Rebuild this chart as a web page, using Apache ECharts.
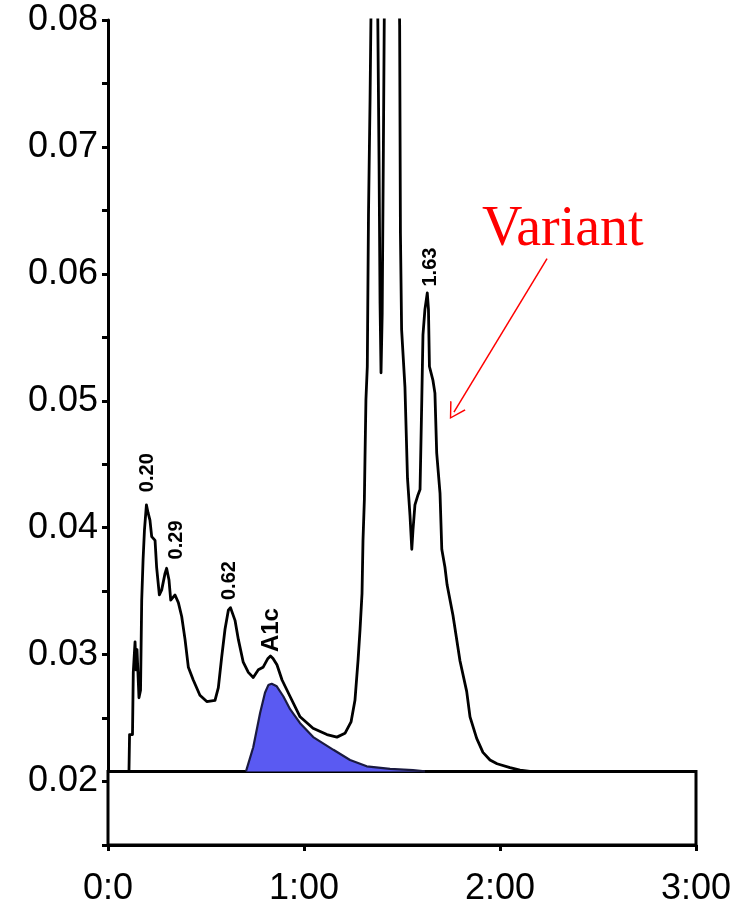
<!DOCTYPE html>
<html>
<head>
<meta charset="utf-8">
<script src="https://cdn.jsdelivr.net/npm/echarts@6/dist/echarts.min.js"></script>
<style>
  html, body { margin: 0; padding: 0; background: #fff; }
  #main { width: 746px; height: 907px; }
</style>
</head>
<body>
<div id="main"></div>
<script>
// retention time in minutes, signal in absorbance units
const traceTime = [0, 0.107, 0.110, 0.125, 0.129, 0.138, 0.143, 0.148, 0.158, 0.166, 0.172, 0.179, 0.186, 0.196,
  0.204, 0.214, 0.223, 0.240, 0.248, 0.262, 0.274, 0.291, 0.299, 0.311, 0.320, 0.342, 0.359, 0.376, 0.393,
  0.410, 0.435, 0.469, 0.504, 0.546, 0.563, 0.580, 0.597, 0.614, 0.625, 0.648, 0.665, 0.690, 0.716, 0.741,
  0.767, 0.791, 0.816, 0.829, 0.842, 0.862, 0.888, 0.929, 0.980, 1.046, 1.117, 1.168, 1.209, 1.240, 1.260,
  1.276, 1.286, 1.296, 1.301, 1.308, 1.311, 1.316, 1.323, 1.329, 1.337, 1.347, 1.372, 1.383, 1.388, 1.393,
  1.399, 1.405, 1.413, 1.480, 1.488, 1.492, 1.498, 1.515, 1.528, 1.541, 1.550, 1.556, 1.566, 1.582, 1.592,
  1.601, 1.607, 1.617, 1.629, 1.635, 1.640, 1.658, 1.668, 1.677, 1.694, 1.703, 1.719, 1.730, 1.760, 1.796,
  1.830, 1.847, 1.881, 1.913, 1.949, 1.985, 2.051, 2.102, 2.153, 3.0]
const traceSignal = [0.0208, 0.0208, 0.0237, 0.0237, 0.0286, 0.0310, 0.0288, 0.0304, 0.0266, 0.0272, 0.0343, 0.0375, 0.0398, 0.0418,
  0.0412, 0.0406, 0.0393, 0.0390, 0.0369, 0.0347, 0.0351, 0.0364, 0.0368, 0.0359, 0.0343, 0.0347, 0.0341, 0.0330, 0.0312,
  0.0290, 0.0280, 0.0268, 0.0263, 0.0264, 0.0274, 0.0298, 0.0320, 0.0335, 0.0337, 0.0327, 0.0312, 0.0294, 0.0286, 0.0282,
  0.0288, 0.0290, 0.0297, 0.0299, 0.0297, 0.0292, 0.0280, 0.0267, 0.0251, 0.0242, 0.0237, 0.0235, 0.0238, 0.0247, 0.0264,
  0.0296, 0.0320, 0.0348, 0.0390, 0.0422, 0.0453, 0.0501, 0.0527, 0.0646, 0.0737, 0.0880, 0.0880, 0.0686, 0.0577, 0.0522,
  0.0569, 0.0698, 0.0880, 0.0880, 0.0796, 0.0632, 0.0556, 0.0511, 0.0439, 0.0409, 0.0383, 0.0398, 0.0418, 0.0426, 0.0430,
  0.0501, 0.0552, 0.0572, 0.0585, 0.0572, 0.0527, 0.0516, 0.0506, 0.0459, 0.0427, 0.0383, 0.0369, 0.0355, 0.0331, 0.0295,
  0.0271, 0.0251, 0.0234, 0.0223, 0.0217, 0.0214, 0.0211, 0.0209, 0.0208, 0.0208]

// fitted A1c peak (shaded)
const a1cTime = [0.704, 0.741, 0.776, 0.801, 0.818, 0.835, 0.861, 0.895, 0.929, 0.980, 1.047, 1.150, 1.235, 1.320, 1.439, 1.556, 1.617]
const a1cSignal = [0.0208, 0.0227, 0.0254, 0.0270, 0.0276, 0.0277, 0.0275, 0.0267, 0.0257, 0.0246, 0.0235, 0.0225, 0.0217, 0.0212, 0.0210, 0.0209, 0.0208]

// peak labels: anchor at text bottom
const peakText = ['0.20', '0.29', '0.62', 'A1c', '1.63']
const peakTime = [0.199, 0.351, 0.622, 0.835, 1.643]
const peakSignal = [0.0428, 0.0375, 0.0343, 0.0302, 0.0590]

const xTickLabels = ['0:0', '1:00', '2:00', '3:00']
const baseline = 0.0208
const yMin = 0.015
const yMax = 0.08

const variantPos = [1.908, 0.0634]
const arrowFrom = [2.240, 0.0612]
const arrowTo = [1.765, 0.0491]

const chart = echarts.init(document.getElementById('main'))

const axisFont = { fontFamily: 'Liberation Sans, Arial, sans-serif', fontSize: 36, color: '#000' }

chart.setOption({
  backgroundColor: '#fff',
  animation: false,
  grid: { left: 108, right: 50, top: 20, bottom: 61 },
  xAxis: {
    type: 'value', min: 0, max: 3, interval: 1,
    axisLine: { lineStyle: { color: '#000', width: 3 } },
    axisTick: { length: 6, lineStyle: { color: '#000', width: 3 } },
    axisLabel: { ...axisFont, margin: 26, formatter: v => xTickLabels[Math.round(v)] },
    splitLine: { show: false },
  },
  yAxis: {
    type: 'value', min: yMin, max: yMax, interval: 0.005,
    axisLine: { show: true, lineStyle: { color: '#000', width: 3 } },
    axisTick: { show: true, length: 6, lineStyle: { color: '#000', width: 3 } },
    axisLabel: {
      ...axisFont, margin: 10,
      formatter: v => Math.abs(v * 100 - Math.round(v * 100)) < 1e-6 ? v.toFixed(2) : '',
    },
    splitLine: { show: false },
  },
  series: [
    {
      name: 'A1c', type: 'line', z: 2,
      data: a1cTime.map((t, i) => [t, a1cSignal[i]]),
      symbol: 'none',
      lineStyle: { color: '#1a1a40', width: 2.2 },
      areaStyle: { color: '#5a5af2', opacity: 1, origin: baseline },
    },
    {
      name: 'trace', type: 'line', z: 3,
      data: traceTime.map((t, i) => [t, traceSignal[i]]),
      symbol: 'none',
      lineStyle: { color: '#000', width: 2.8, join: 'round' },
    },
    {
      // baseline box under the chromatogram
      name: 'box', type: 'line', z: 10, data: [],
      markArea: {
        silent: true,
        itemStyle: { color: '#fff', borderColor: '#000', borderWidth: 3 },
        data: [[{ xAxis: 0, yAxis: yMin }, { xAxis: 3, yAxis: baseline }]],
      },
    },
    {
      name: 'peaks', type: 'scatter', z: 11, symbolSize: 0,
      itemStyle: { opacity: 1 },
      data: peakTime.map((t, i) => ({
        value: [t, peakSignal[i]], name: peakText[i],
        // A1c label is a little bigger than the retention time labels
        label: peakText[i] === 'A1c' ? { fontSize: 24 } : undefined,
      })),
      label: {
        show: true, position: 'inside', rotate: 90,
        align: 'left', verticalAlign: 'middle',
        formatter: p => p.name,
        fontFamily: 'Liberation Sans, Arial, sans-serif', fontWeight: 'bold', color: '#000',
        fontSize: 20,
      },
    },
    {
      name: 'variant', type: 'scatter', z: 12, symbolSize: 0,
      itemStyle: { opacity: 1 },
      data: [{ value: variantPos, name: 'Variant' }],
      label: {
        show: true, position: 'inside', align: 'left', verticalAlign: 'middle',
        formatter: 'Variant',
        fontFamily: 'Liberation Serif, Times New Roman, serif', fontSize: 56, color: '#ff0000',
      },
      markLine: {
        silent: true,
        symbol: ['none', 'path://M0,0 L9,20 L7.6,20.6 L0,3.6 L-7.6,20.6 L-9,20 Z'],
        symbolSize: [18, 16],
        lineStyle: { color: '#ff0000', width: 1.5, type: 'solid' },
        label: { show: false },
        data: [[{ coord: arrowFrom }, { coord: arrowTo }]],
      },
    },
  ],
})
</script>
</body>
</html>
